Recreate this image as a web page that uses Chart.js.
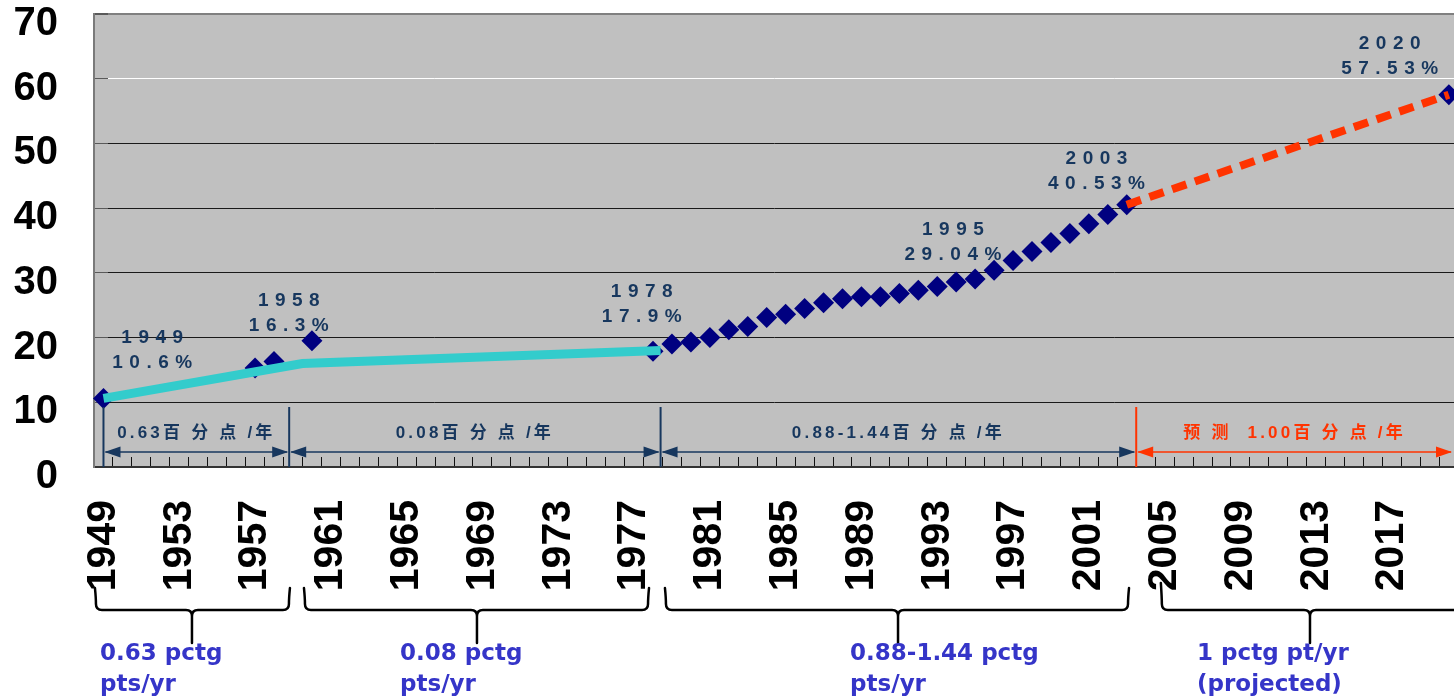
<!DOCTYPE html>
<html>
<head>
<meta charset="utf-8">
<style>
html,body{margin:0;padding:0;background:#fff;overflow:hidden}
#wrap{width:1454px;height:699px;position:relative}
</style>
<script src="https://cdn.jsdelivr.net/npm/chart.js@4.4.1/dist/chart.umd.min.js"></script>
</head>
<body>
<div id="wrap"><canvas id="c"></canvas></div>
<script>
// ---------- data ----------
const pointYears = [1949,1957,1958,1960,1978,1979,1980,1981,1982,1983,1984,1985,1986,1987,1988,1989,1990,1991,1992,1993,1994,1995,1996,1997,1998,1999,2000,2001,2002,2003,2020];
const pointValues = [10.6,15.3,16.3,19.5,17.9,19.0,19.3,20.0,21.2,21.7,23.1,23.6,24.5,25.4,26.0,26.3,26.3,26.8,27.3,27.9,28.6,29.04,30.4,31.9,33.3,34.7,36.1,37.6,39.0,40.53,57.53];
const trendYears = [1949,1959.5,1978.4];
const trendValues = [10.6,16.0,18.0];
const forecastYears = [2003,2020];
const forecastValues = [40.53,57.53];
const tickLabels = ['1949','1953','1957','1961','1965','1969','1973','1977','1981','1985','1989','1993','1997','2001','2005','2009','2013','2017'];
const yTicks = [0,10,20,30,40,50,60,70];
const calloutYears = [1949,1958,1978,1995,2003,2020];
const calloutTexts = ['10.6%','16.3%','17.9%','29.04%','40.53%','57.53%'];
const periodBounds = [1949,1958.8,1978.4,2003.5];
const periodLabels = ['0.63百 分 点 /年','0.08百 分 点 /年','0.88-1.44百 分 点 /年','预 测  1.00百 分 点 /年'];
const noteLines = [['0.63 pctg','pts/yr'],['0.08 pctg','pts/yr'],['0.88-1.44 pctg','pts/yr'],['1 pctg pt/yr','(projected)']];

// ---------- styles / annotation placement ----------
const NAVY = '#17375E', RED = '#FF3300', NOTE_BLUE = '#3535C8';
const calloutOffsets = [[52,-61],[18,-61],[-8,-59],[-19,-49],[-27,-46],[-56,-51]];
const braceSpans = [[1948.55,1958.84,1953.67,588],[1959.58,1977.79,1968.71,588],[1978.63,2003.12,1990.93,588],[2004.80,2022.5,2012.67,583]];
const noteX = [1948.82,1964.65,1988.40,2006.71];

function spaced(ctx, px){ if ('letterSpacing' in ctx) ctx.letterSpacing = px + 'px'; }
const zeroPad = () => ({left: 0, right: 0, top: 0, bottom: 0});

const annot = {
  id: 'annot',
  beforeDraw(chart){
    const {ctx, chartArea:a} = chart;
    ctx.save();
    ctx.fillStyle = '#fff'; ctx.fillRect(0,0,chart.width,chart.height);
    ctx.fillStyle = '#C0C0C0'; ctx.fillRect(a.left,a.top,a.right-a.left,a.bottom-a.top);
    ctx.restore();
  },
  afterDatasetsDraw(chart){
    const {ctx, chartArea:a} = chart;
    const xs = chart.scales.x, ys = chart.scales.y;
    ctx.save();
    const sepTop = a.bottom - 60, arrowY = a.bottom - 15, textY = a.bottom - 34;
    const b = periodBounds.map(v => xs.getPixelForValue(v));
    b.push(Math.min(a.right, chart.width) - 1);
    for (let i = 0; i < periodLabels.length; i++){
      const col = i === 3 ? RED : NAVY;
      const x0 = b[i], x1 = b[i+1];
      ctx.strokeStyle = col; ctx.fillStyle = col;
      ctx.lineWidth = 2;
      ctx.beginPath(); ctx.moveTo(x0, sepTop); ctx.lineTo(x0, a.bottom); ctx.stroke();
      ctx.lineWidth = 1.5;
      ctx.beginPath(); ctx.moveTo(x0+2, arrowY); ctx.lineTo(x1-2, arrowY); ctx.stroke();
      ctx.beginPath(); ctx.moveTo(x0+1, arrowY); ctx.lineTo(x0+17, arrowY-5.5); ctx.lineTo(x0+17, arrowY+5.5); ctx.closePath(); ctx.fill();
      ctx.beginPath(); ctx.moveTo(x1-1, arrowY); ctx.lineTo(x1-17, arrowY-5.5); ctx.lineTo(x1-17, arrowY+5.5); ctx.closePath(); ctx.fill();
      ctx.font = 'bold 17px "Liberation Sans", "Noto Sans CJK SC", sans-serif';
      spaced(ctx, 3.2);
      ctx.textAlign = 'center'; ctx.textBaseline = 'middle';
      ctx.fillText(periodLabels[i], (x0+x1)/2, textY);
    }
    ctx.fillStyle = NAVY;
    ctx.font = 'bold 19px "Liberation Sans", Arial, sans-serif';
    spaced(ctx, 6.5);
    ctx.textAlign = 'center'; ctx.textBaseline = 'middle';
    calloutYears.forEach((yr, i) => {
      const idx = pointYears.indexOf(yr);
      const px = xs.getPixelForValue(yr), py = ys.getPixelForValue(pointValues[idx]);
      const [dx, dy] = calloutOffsets[i];
      ctx.fillText(String(yr), px+dx, py+dy);
      ctx.fillText(calloutTexts[i], px+dx, py+dy+25);
    });
    ctx.restore();
  },
  afterDraw(chart){
    const {ctx} = chart;
    const xs = chart.scales.x;
    ctx.save();
    ctx.strokeStyle = '#000'; ctx.lineWidth = 2.5; ctx.lineJoin = 'round'; ctx.lineCap = 'round';
    const hy = 610, tail = 643, r = 6;
    braceSpans.forEach(([v1, v2, vm, top]) => {
      const x1 = xs.getPixelForValue(v1), x2 = xs.getPixelForValue(v2), xm = xs.getPixelForValue(vm);
      ctx.beginPath();
      ctx.moveTo(x1, top);
      ctx.quadraticCurveTo(x1+1, hy-r-6, x1+1, hy-r);
      ctx.quadraticCurveTo(x1+1, hy, x1+1+r, hy);
      ctx.lineTo(xm-r, hy);
      ctx.quadraticCurveTo(xm, hy, xm, hy+r);
      ctx.lineTo(xm, tail);
      ctx.moveTo(xm, hy+r);
      ctx.quadraticCurveTo(xm, hy, xm+r, hy);
      ctx.lineTo(x2-1-r, hy);
      ctx.quadraticCurveTo(x2-1, hy, x2-1, hy-r);
      ctx.quadraticCurveTo(x2-1, hy-r-6, x2, top);
      ctx.stroke();
    });
    ctx.fillStyle = NOTE_BLUE;
    ctx.font = 'bold 23px "DejaVu Sans", sans-serif';
    spaced(ctx, 0);
    ctx.textAlign = 'left'; ctx.textBaseline = 'alphabetic';
    noteLines.forEach((lines, i) => {
      const x = xs.getPixelForValue(noteX[i]);
      ctx.fillText(lines[0], x, 660);
      ctx.fillText(lines[1], x, 691);
    });
    ctx.restore();
  }
};

const axisFont = {family: '"Liberation Sans", Arial, sans-serif', size: 41, weight: 'bold'};

new Chart(document.getElementById('c'), {
  type: 'line',
  data: {
    datasets: [
      { label: 'forecast', data: forecastYears.map((x,i)=>({x, y: forecastValues[i]})),
        borderColor: RED, borderWidth: 8, borderDash: [15,9], borderCapStyle: 'butt',
        pointRadius: 0, order: 1, clip: false },
      { label: 'trend', data: trendYears.map((x,i)=>({x, y: trendValues[i]})),
        borderColor: '#33CCCC', borderWidth: 9, borderCapStyle: 'butt',
        pointRadius: 0, order: 2 },
      { label: 'urbanization', data: pointYears.map((x,i)=>({x, y: pointValues[i]})),
        showLine: false, pointStyle: 'rectRot', pointRadius: 10.5,
        backgroundColor: '#000080', borderColor: '#000080', borderWidth: 0, order: 3, clip: false }
    ]
  },
  options: {
    responsive: true, maintainAspectRatio: false, animation: false,
    layout: { autoPadding: false, padding: { top: 14, left: 0, right: 0, bottom: 0 } },
    plugins: { legend: { display: false }, tooltip: { enabled: false } },
    scales: {
      x: {
        type: 'linear', min: 1948.5, max: 2020.27, bounds: 'data',
        afterBuildTicks: s => { const t = []; for (let v = 1949; v <= 2020; v++) t.push({value: v}); s.ticks = t; },
        afterFit: s => { s.height = 232; s.paddingLeft = 0; s.paddingRight = 0; s.paddingTop = 0; s.paddingBottom = 0; s.getPadding = zeroPad; },
        grid: { offset: true, drawOnChartArea: false, drawTicks: true, tickLength: -10, color: '#111', lineWidth: 1 },
        border: { display: true, color: '#333', width: 2 },
        ticks: { autoSkip: false, minRotation: 90, maxRotation: 90, padding: 43, color: '#000', font: axisFont,
          callback: v => tickLabels.includes(String(v)) ? String(v) : '' }
      },
      y: {
        min: 0, max: 70,
        afterBuildTicks: s => { s.ticks = yTicks.map(v => ({value: v})); },
        afterFit: s => { s.width = 94; s.paddingLeft = 0; s.paddingRight = 0; s.paddingTop = 0; s.paddingBottom = 0; s.getPadding = zeroPad; },
        grid: {
          color: c => c.tick && c.tick.value === 60 ? '#FFFFFF' : (c.tick && c.tick.value === 70 ? '#808080' : '#1a1a1a'),
          lineWidth: c => c.tick && c.tick.value === 70 ? 2 : 1,
          tickLength: -14, tickColor: '#5a5a5a', drawTicks: true
        },
        border: { display: true, color: '#7a7a7a', width: 2 },
        ticks: { padding: 50, labelOffset: 10, color: '#000', font: {family: '"Liberation Sans", Arial, sans-serif', size: 40, weight: 'bold'}, callback: v => String(v) }
      }
    }
  },
  plugins: [annot]
});
</script>
</body>
</html>
